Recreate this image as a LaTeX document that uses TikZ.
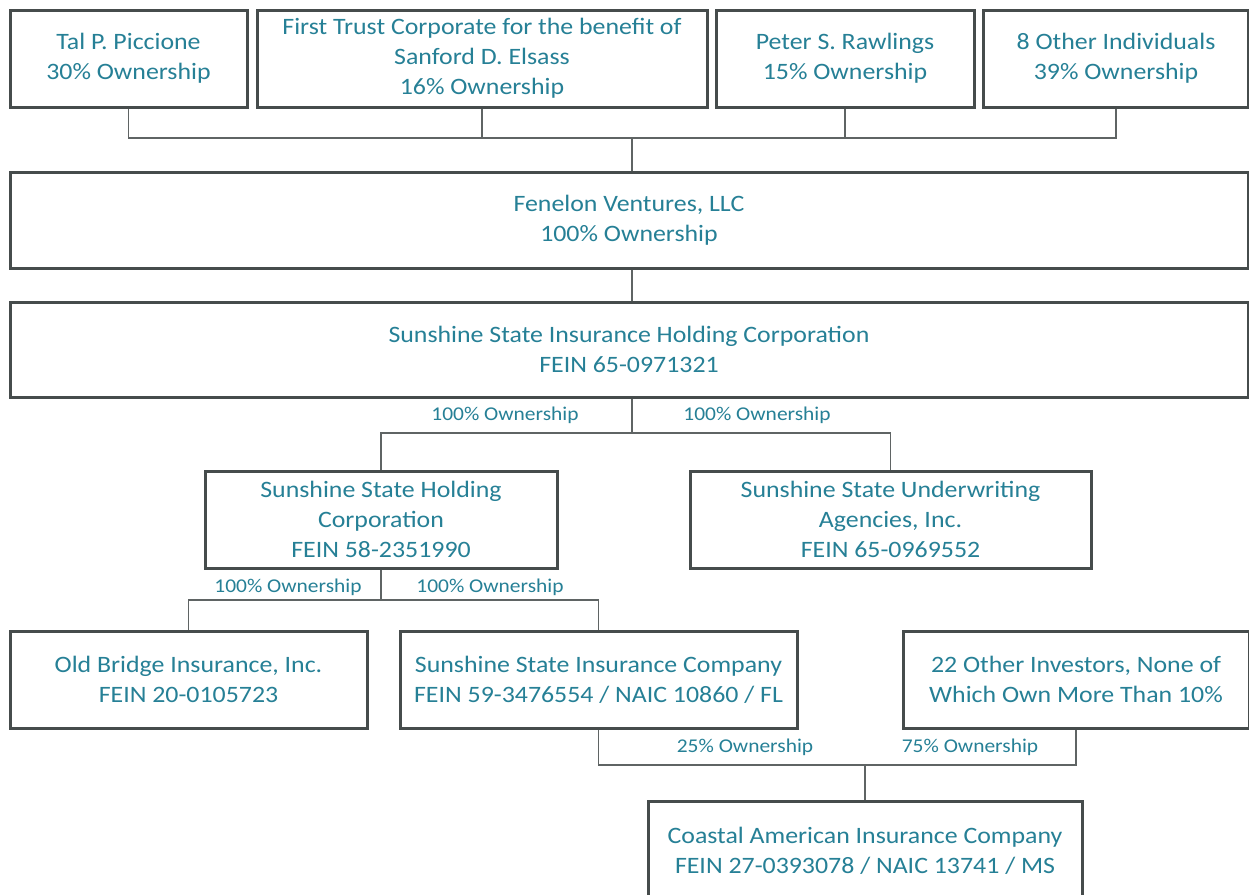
\documentclass[tikz,border=0pt]{standalone}
\usepackage{fontspec}
\setmainfont{Carlito}[FakeStretch=1.1]
\definecolor{txt}{RGB}{38,128,150}
\definecolor{brd}{RGB}{70,76,76}
\definecolor{cn}{RGB}{95,100,100}
\tikzset{
  box/.style={draw=brd, line width=3pt, fill=white, inner sep=0pt, align=center,
    text=txt, font=\fontsize{23.5}{30}\selectfont},
  conn/.style={draw=cn, line width=1.2pt},
  lbl/.style={text=txt, font=\fontsize{19.5}{22}\selectfont, inner sep=0pt}
}
\begin{document}
\begin{tikzpicture}[x=1pt,y=-1pt]
\useasboundingbox[fill=white] (0,0) rectangle (1249,894);
% top row
\node[box, minimum width=237pt, minimum height=97pt] (tal) at (128.5,58.5) {Tal P. Piccione\\30\% Ownership};
\node[box, minimum width=450pt, minimum height=97pt] (ft) at (482,58.5) {First Trust Corporate for the benefit of\\Sanford D. Elsass\\16\% Ownership};
\node[box, minimum width=258pt, minimum height=97pt] (pr) at (845,58.5) {Peter S. Rawlings\\15\% Ownership};
\node[box, minimum width=265pt, minimum height=97pt] (oi) at (1116,58.5) {8 Other Individuals\\39\% Ownership};
% wide boxes
\node[box, minimum width=1238pt, minimum height=96pt] (fen) at (629,220) {Fenelon Ventures, LLC\\100\% Ownership};
\node[box, minimum width=1238pt, minimum height=95pt] (ssihc) at (629,349.5) {Sunshine State Insurance Holding Corporation\\FEIN 65-0971321};
% third row
\node[box, minimum width=352pt, minimum height=97pt] (sshc) at (381,519.5) {Sunshine State Holding\\Corporation\\FEIN 58-2351990};
\node[box, minimum width=401pt, minimum height=97pt] (ssua) at (890.5,519.5) {Sunshine State Underwriting\\Agencies, Inc.\\FEIN 65-0969552};
% fourth row
\node[box, minimum width=357pt, minimum height=97pt] (obi) at (188.5,679.5) {Old Bridge Insurance, Inc.\\FEIN 20-0105723};
\node[box, minimum width=397pt, minimum height=97pt] (ssic) at (598.5,679.5) {Sunshine State Insurance Company\\FEIN 59-3476554 / NAIC 10860 / FL};
\node[box, minimum width=346pt, minimum height=97pt] (oinv) at (1076,679.5) {22 Other Investors, None of\\Which Own More Than 10\%};
% bottom
\node[box, minimum width=434pt, minimum height=99pt] (cai) at (865,850.5) {Coastal American Insurance Company\\FEIN 27-0393078 / NAIC 13741 / MS};
% bus coordinates
\coordinate (bus1) at (632,138);
\coordinate (bus2) at (632,433);
\coordinate (bus3) at (381,600);
\coordinate (bus4) at (865,765);
% connectors top
\draw[conn] (tal.south) -- (tal.south |- bus1) -- (oi.south |- bus1) -- (oi.south);
\draw[conn] (ft.south) -- (ft.south |- bus1);
\draw[conn] (pr.south) -- (pr.south |- bus1);
\draw[conn] (bus1) -- (bus1 |- fen.north);
\draw[conn] (bus1 |- fen.south) -- (bus1 |- ssihc.north);
% ssihc to children
\draw[conn] (bus2 |- ssihc.south) -- (bus2);
\draw[conn] (sshc.north) -- (sshc.north |- bus2) -- (ssua.north |- bus2) -- (ssua.north);
% sshc to children
\draw[conn] (sshc.south) -- (bus3);
\draw[conn] (obi.north) -- (obi.north |- bus3) -- (ssic.north |- bus3) -- (ssic.north);
% to coastal
\draw[conn] (ssic.south) -- (ssic.south |- bus4) -- (oinv.south |- bus4) -- (oinv.south);
\draw[conn] (bus4) -- (cai.north);
% labels
\node[lbl] (l1) at (505,415) {100\% Ownership};
\node[lbl] (l2) at (757,415) {100\% Ownership};
\node[lbl] (l3) at (288,587) {100\% Ownership};
\node[lbl] (l4) at (490,587) {100\% Ownership};
\node[lbl] (l5) at (745,747) {25\% Ownership};
\node[lbl] (l6) at (970,747) {75\% Ownership};
\end{tikzpicture}
\end{document}
